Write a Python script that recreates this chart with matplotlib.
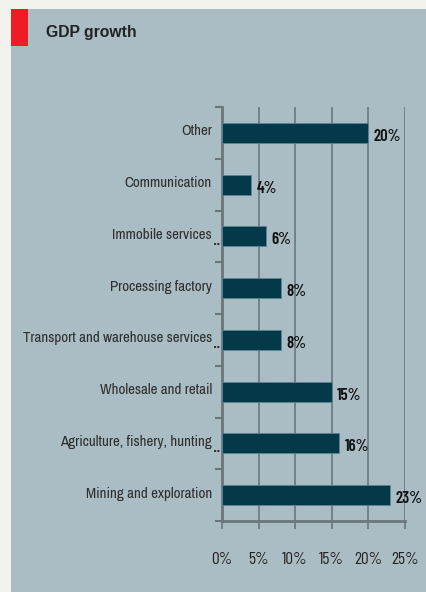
import matplotlib
matplotlib.use("Agg")
import matplotlib.pyplot as plt
from matplotlib.patches import Rectangle

# data, top to bottom as in the picture
categories = ["Other", "Communication", "Immobile services", "Processing factory",
              "Transport and warehouse services", "Wholesale and retail",
              "Agriculture, fishery, hunting", "Mining and exploration"]
growth = [20, 4, 6, 8, 8, 15, 16, 23]
# labels that carry the little ".." marker in the source
dotted = ["Immobile services", "Transport and warehouse services", "Agriculture, fishery, hunting"]
xticks = [0, 5, 10, 15, 20, 25]

narrow = ["Archivo Narrow", "Liberation Sans", "DejaVu Sans"]
cond = ["Barlow Condensed", "Archivo Narrow", "Liberation Sans", "DejaVu Sans"]

W, H = 427, 592
fig = plt.figure(figsize=(W / 100, H / 100), dpi=100)
fig.patch.set_facecolor("#f3f3ee")

# panel and red marker
fig.patches.append(Rectangle((11 / W, 0), 1 - 11 / W, (H - 9) / H, transform=fig.transFigure,
                             facecolor="#abbdc4", edgecolor="none", zorder=-3))
fig.patches.append(Rectangle((11 / W, 1 - 46 / H), 17 / W, 37 / H, transform=fig.transFigure,
                             facecolor="#ee1c25", edgecolor="none", zorder=-2))
fig.text(46 / W, 1 - 33 / H, "GDP growth", fontsize=11.3, fontweight="bold",
         family="Liberation Sans", color="#222222", va="center", ha="left")

ax = fig.add_axes([222 / W, 1 - 521 / H, (405 - 222) / W, (521 - 107) / H])
ax.set_facecolor("none")

ypos = list(range(len(categories)))
ax.barh(ypos, growth, height=0.39, color="#043949", edgecolor="#5a8494", linewidth=0.6, zorder=3)
ax.set_ylim(len(categories) - 0.5, -0.5)
ax.set_xlim(0, 25)

for y, v in zip(ypos, growth):
    ax.text(v + 0.75, y + 0.07, f"{v}%", va="center", ha="left", fontsize=12,
            fontweight="semibold", family=cond, color="#111111", zorder=4)

ax.set_xticks(xticks)
ax.set_xticklabels([f"{t}%" for t in xticks], family=cond, fontsize=12.5, color="#222222")
ax.tick_params(axis="x", length=6, width=1.2, color="#6b767c", pad=16)
ax.xaxis.grid(True, color="#6b777d", linewidth=1.2, zorder=1)
ax.set_axisbelow(True)

# category labels between boundary ticks
ax.set_yticks([i - 0.5 for i in range(len(categories))] + [len(categories) - 0.5])
ax.set_yticklabels([])
ax.tick_params(axis="y", length=5, width=1.5, color="#6b767c")
for y, c in zip(ypos, categories):
    ax.text(-0.055, y - 0.03, c, transform=ax.get_yaxis_transform(), ha="right", va="center",
            fontsize=10.8, family=narrow, color="#2e2e2e")
    if c in dotted:
        ax.text(-0.003, y + 0.2, "..", transform=ax.get_yaxis_transform(), ha="right",
                va="bottom", fontsize=8, fontweight="bold", color="#2e2e2e")

for s in ["top", "right"]:
    ax.spines[s].set_visible(False)
for s in ["left", "bottom"]:
    ax.spines[s].set_color("#6b767c")
    ax.spines[s].set_linewidth(2)

fig.savefig("out.png", dpi=100, facecolor=fig.get_facecolor())
